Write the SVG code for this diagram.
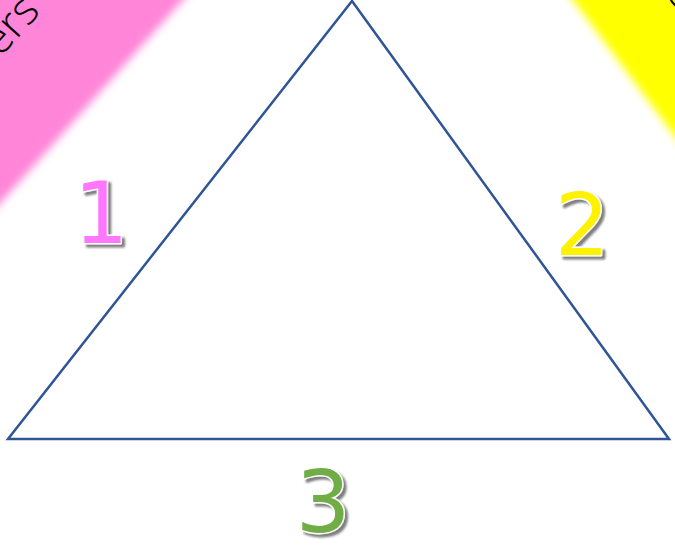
<svg xmlns="http://www.w3.org/2000/svg" width="675" height="550" viewBox="0 0 675 550">
  <defs>
    <filter id="blur" x="-20%" y="-20%" width="140%" height="140%">
      <feGaussianBlur stdDeviation="4"/>
    </filter>
    <filter id="shadow" x="-30%" y="-30%" width="160%" height="160%">
      <feDropShadow dx="3" dy="3" stdDeviation="1.2" flood-color="#7f7f7f" flood-opacity="1"/>
    </filter>
    <style>
      .num { font-family: "DejaVu Sans", sans-serif; font-size: 86px; text-anchor: middle; stroke: #ffffff; stroke-width: 3; paint-order: stroke; stroke-linejoin: round; filter: url(#shadow); }
      .band-text { font-family: "Open Sans", "DejaVu Sans", sans-serif; font-weight: 300; font-size: 44px; fill: #000000; }
    </style>
  </defs>
  <rect width="675" height="550" fill="#ffffff"/>
  <g id="band-pink">
    <polygon points="-60,-60 240,-60 183,0 -60,270" fill="#ff85d8" filter="url(#blur)"/>
    <text class="band-text" transform="translate(0,58) rotate(-48)">ers</text>
  </g>
  <g id="band-yellow">
    <polygon points="520,-60 760,-60 760,220 700,170 573,0" fill="#ffff00" filter="url(#blur)"/>
    <text class="band-text" transform="translate(662,-10) rotate(52)">O</text>
  </g>
  <g id="connectors">
    <polygon points="352,1 669,439 8,439" fill="none" stroke="#2f5597" stroke-width="2.5" stroke-linejoin="miter"/>
  </g>
  <g id="label-1"><text class="num" x="101" y="243" fill="#ff77ff">1</text></g>
  <g id="label-2"><text class="num" x="582" y="255" fill="#fff200">2</text></g>
  <g id="label-3"><text class="num" x="323" y="532" fill="#70ad47">3</text></g>
</svg>
